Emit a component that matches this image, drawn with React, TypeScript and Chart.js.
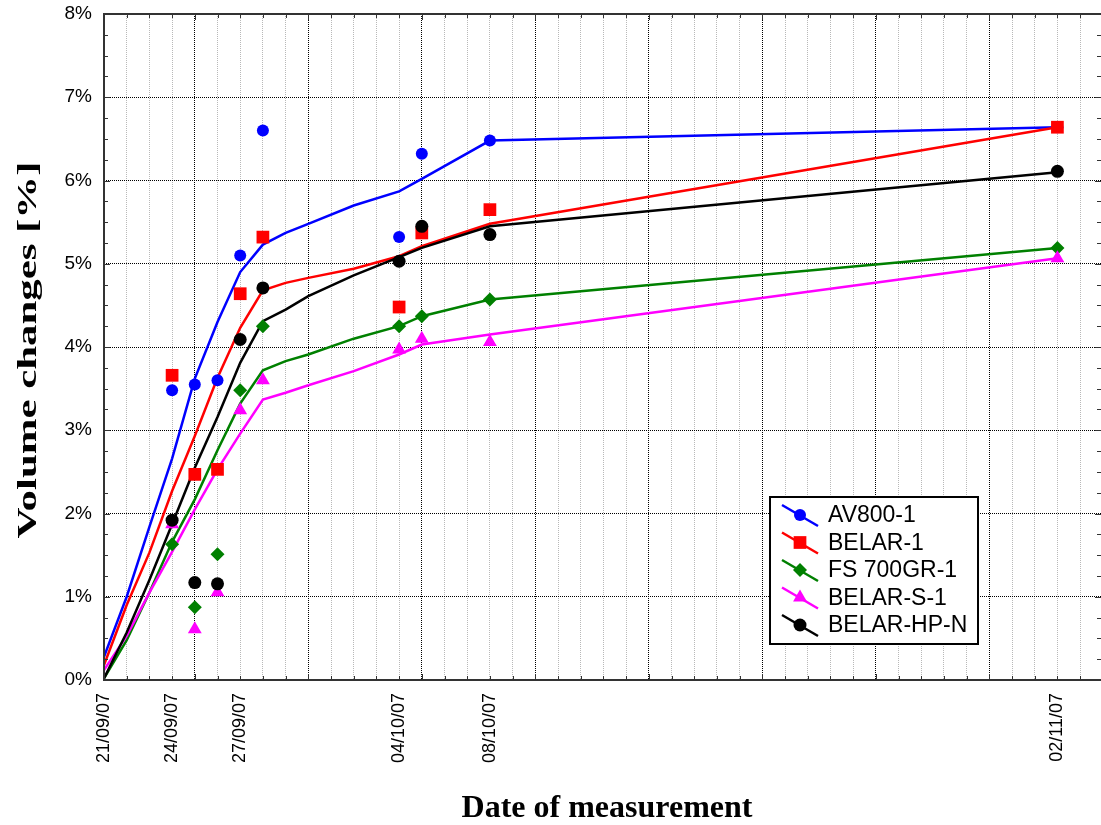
import { useEffect, useRef } from 'react';
import { Chart, registerables } from 'chart.js';

Chart.register(...registerables);

// Days counted from the first measurement on 21/09/07
const measureDays = [3, 4, 5, 6, 7, 13, 14, 17, 42];
const labelDays = [0, 3, 6, 13, 17, 42];
const dateLabels = ['21/09/07', '24/09/07', '27/09/07', '04/10/07', '08/10/07', '02/11/07'];

// Measured volume changes [%]
const av800Measured = [3.48, 3.55, 3.6, 5.1, 6.6, 5.32, 6.32, 6.48, 6.64];
const belar1Measured = [3.66, 2.47, 2.53, 4.64, 5.32, 4.48, 5.37, 5.65, 6.64];
const fs700Measured = [1.63, 0.875, 1.51, 3.48, 4.25, 4.25, 4.37, 4.57, 5.19];
const belarSMeasured = [1.87, 0.61, 1.055, 3.24, 3.6, 3.97, 4.1, 4.06, 5.065];
const belarHPMeasured = [1.92, 1.17, 1.155, 4.09, 4.71, 5.03, 5.45, 5.35, 6.11];

// Fitted trend curves [%], sampled at these days
const curveDays = [0, 1, 2, 3, 4, 5, 6, 7, 8, 9, 11, 13, 14, 17, 42];
const av800Curve = [0.28, 1.0, 1.84, 2.66, 3.62, 4.3, 4.9, 5.23, 5.37, 5.48, 5.7, 5.87, 6.02, 6.48, 6.64];
const belar1Curve = [0.18, 0.9, 1.53, 2.27, 2.93, 3.63, 4.23, 4.68, 4.77, 4.83, 4.94, 5.09, 5.21, 5.48, 6.64];
const fs700Curve = [0.02, 0.48, 1.05, 1.66, 2.17, 2.76, 3.32, 3.72, 3.83, 3.91, 4.1, 4.25, 4.37, 4.57, 5.19];
const belarSCurve = [0.12, 0.53, 1.05, 1.54, 2.05, 2.53, 2.96, 3.37, 3.45, 3.54, 3.71, 3.91, 4.03, 4.15, 5.065];
const belarHPCurve = [0.02, 0.57, 1.2, 1.87, 2.55, 3.16, 3.81, 4.31, 4.45, 4.61, 4.86, 5.08, 5.19, 5.45, 6.1];

const seriesNames = ['AV800-1', 'BELAR-1', 'FS 700GR-1', 'BELAR-S-1', 'BELAR-HP-N'];
const measuredSets = [av800Measured, belar1Measured, fs700Measured, belarSMeasured, belarHPMeasured];
const curveSets = [av800Curve, belar1Curve, fs700Curve, belarSCurve, belarHPCurve];

const yTickValues = [0, 1, 2, 3, 4, 5, 6, 7, 8];

// Styling
const seriesColors = ['#0000ff', '#ff0000', '#008000', '#ff00ff', '#000000'];
const seriesMarkers = ['circle', 'rect', 'rectRot', 'triangle', 'circle'];
const markerRadii = [6, 9, 7, 8, 6.5];
const SANS = '"Liberation Sans", Arial, sans-serif';
const SERIF = '"Liberation Serif", "Times New Roman", serif';

const toPoints = (days: number[], vals: number[]) => days.map((d, i) => ({ x: d, y: vals[i] }));
const isMajorDay = (d: number) => (d - 4) % 5 === 0;

function drawMarker(ctx: CanvasRenderingContext2D, style: string, x: number, y: number, r: number, color: string) {
  ctx.beginPath();
  if (style === 'circle') {
    ctx.arc(x, y, r, 0, Math.PI * 2);
  } else if (style === 'rect') {
    const s = Math.SQRT1_2 * r;
    ctx.rect(x - s, y - s, 2 * s, 2 * s);
  } else if (style === 'rectRot') {
    ctx.moveTo(x - r, y);
    ctx.lineTo(x, y - r);
    ctx.lineTo(x + r, y);
    ctx.lineTo(x, y + r);
    ctx.closePath();
  } else {
    const a = (2 * Math.PI) / 3;
    ctx.moveTo(x, y - r);
    ctx.lineTo(x + Math.sin(a) * r, y - Math.cos(a) * r);
    ctx.lineTo(x + Math.sin(2 * a) * r, y - Math.cos(2 * a) * r);
    ctx.closePath();
  }
  ctx.fillStyle = color;
  ctx.fill();
}

const framePlugin = {
  id: 'frameAndDecor',
  afterDraw(chart: any) {
    const { ctx, chartArea: a, scales } = chart;
    const xs = scales.x;
    const ys = scales.y;
    ctx.save();

    // tick marks on all four sides, pointing into the plot
    ctx.strokeStyle = '#333333';
    ctx.lineWidth = 1;
    ctx.beginPath();
    for (let d = 0; d <= Math.floor(xs.max); d++) {
      const x = Math.round(xs.getPixelForValue(d)) + 0.5;
      const len = isMajorDay(d) ? 6 : 4;
      ctx.moveTo(x, a.bottom);
      ctx.lineTo(x, a.bottom - len);
      ctx.moveTo(x, a.top);
      ctx.lineTo(x, a.top + len);
    }
    for (let v = 0; v <= 8; v += 0.25) {
      const y = Math.round(ys.getPixelForValue(v)) + 0.5;
      const len = Number.isInteger(v) ? 6 : 4;
      ctx.moveTo(a.left, y);
      ctx.lineTo(a.left + len, y);
      ctx.moveTo(a.right, y);
      ctx.lineTo(a.right - len, y);
    }
    ctx.stroke();

    // plot frame
    ctx.strokeStyle = '#333333';
    ctx.lineWidth = 2;
    ctx.beginPath();
    ctx.moveTo(a.right, a.top);
    ctx.lineTo(a.left, a.top);
    ctx.lineTo(a.left, a.bottom);
    ctx.lineTo(a.right, a.bottom);
    ctx.stroke();

    // legend
    const bx = 770, by = 497, bw = 208, bh = 147;
    ctx.fillStyle = '#ffffff';
    ctx.fillRect(bx, by, bw, bh);
    ctx.strokeStyle = '#000000';
    ctx.lineWidth = 2;
    ctx.strokeRect(bx, by, bw, bh);
    ctx.font = `23px ${SANS}`;
    ctx.textAlign = 'left';
    ctx.textBaseline = 'middle';
    seriesNames.forEach((name, i) => {
      const cy = 515 + i * 27.5;
      ctx.strokeStyle = seriesColors[i];
      ctx.lineWidth = 2.5;
      ctx.beginPath();
      ctx.moveTo(782, cy - 10);
      ctx.lineTo(818, cy + 11);
      ctx.stroke();
      drawMarker(ctx, seriesMarkers[i], 800, cy, markerRadii[i], seriesColors[i]);
      ctx.fillStyle = '#000000';
      ctx.fillText(name, 828, cy + 1);
    });

    // axis titles
    ctx.fillStyle = '#000000';
    ctx.font = `bold 32px ${SERIF}`;
    ctx.textAlign = 'center';
    ctx.textBaseline = 'alphabetic';
    ctx.fillText('Date of measurement', 607, 817);

    ctx.save();
    ctx.translate(36, 350);
    ctx.rotate(-Math.PI / 2);
    ctx.scale(1.53, 1);
    ctx.font = `bold 28px ${SERIF}`;
    ctx.fillText('Volume changes [%]', 0, 0);
    ctx.restore();

    ctx.restore();
  },
};

export default function App() {
  const canvasRef = useRef<HTMLCanvasElement | null>(null);

  useEffect(() => {
    if (!canvasRef.current) return;

    const lineSets = curveSets.map((c, i) => ({
      label: seriesNames[i] + ' trend',
      data: toPoints(curveDays, c),
      borderColor: seriesColors[i],
      borderWidth: 2.5,
      pointRadius: 0,
      tension: 0,
      fill: false,
      order: 100 - i,
    }));
    const markSets = measuredSets.map((m, i) => ({
      label: seriesNames[i],
      data: toPoints(measureDays, m),
      showLine: false,
      pointStyle: seriesMarkers[i],
      pointRadius: markerRadii[i],
      pointBackgroundColor: seriesColors[i],
      pointBorderColor: seriesColors[i],
      pointBorderWidth: 0,
      order: 50 - i,
    }));

    const chart = new Chart(canvasRef.current, {
      type: 'line',
      data: { datasets: [...lineSets, ...markSets] as any },
      options: {
        responsive: false,
        animation: false,
        devicePixelRatio: 1,
        layout: { padding: { left: 8, top: 14, right: 0, bottom: 0 } },
        plugins: { legend: { display: false }, tooltip: { enabled: false } },
        scales: {
          x: {
            type: 'linear',
            min: 0,
            max: 43.92,
            ticks: {
              stepSize: 1,
              autoSkip: false,
              includeBounds: false,
              minRotation: 90,
              maxRotation: 90,
              padding: 13,
              color: '#000000',
              font: { family: SANS, size: 18 },
              callback: (v: any) => {
                const k = labelDays.indexOf(Number(v));
                return k >= 0 ? dateLabels[k] : '';
              },
            },
            grid: {
              color: (c: any) => (c.tick && isMajorDay(c.tick.value) ? '#000000' : '#b8b8b8'),
              lineWidth: 1,
              drawTicks: false,
            },
            border: { display: false, dash: [1, 1] },
            afterFit: (s: any) => {
              s.height = 145;
              s.paddingLeft = 0;
              s.paddingRight = 0;
            },
          },
          y: {
            type: 'linear',
            min: 0,
            max: 8,
            afterBuildTicks: (s: any) => {
              s.ticks = yTickValues.map((v) => ({ value: v }));
            },
            ticks: {
              padding: 12,
              color: '#000000',
              font: { family: SANS, size: 19 },
              callback: (v: any) => `${v}%`,
            },
            grid: {
              color: (c: any) => (c.tick && (c.tick.value === 0 || c.tick.value === 8) ? 'rgba(0,0,0,0)' : '#000000'),
              lineWidth: 1,
              drawTicks: false,
            },
            border: { display: false, dash: [1, 1] },
            afterFit: (s: any) => {
              s.width = 96;
              s.paddingTop = 0;
              s.paddingBottom = 0;
            },
          },
        },
      } as any,
      plugins: [framePlugin],
    });

    return () => chart.destroy();
  }, []);

  return (
    <div style={{ position: 'fixed', left: 0, top: 0, width: 1101, height: 825, overflow: 'hidden', background: '#ffffff' }}>
      <canvas ref={canvasRef} width={1110} height={825} style={{ display: 'block' }} />
    </div>
  );
}
